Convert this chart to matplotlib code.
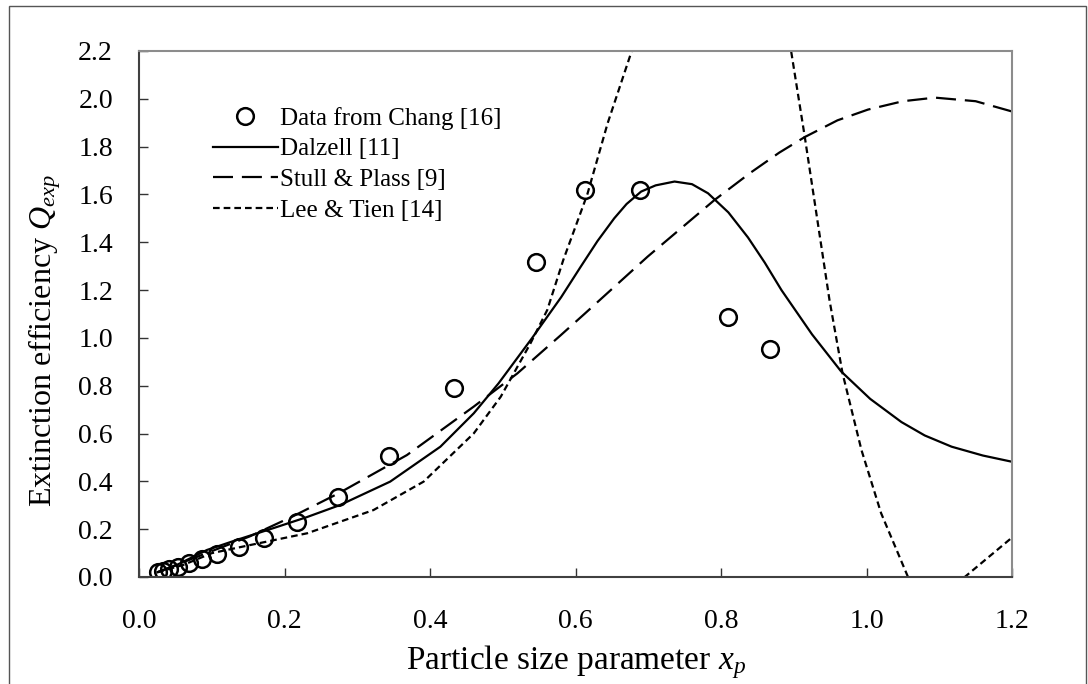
import matplotlib.pyplot as plt
from matplotlib.patches import Rectangle

# Measured extinction efficiency (Chang)
chang_x = [0.026, 0.033, 0.041, 0.053, 0.068, 0.086, 0.107, 0.137, 0.172,
           0.217, 0.273, 0.344, 0.433, 0.546, 0.613, 0.688, 0.809, 0.867]
chang_q = [0.020, 0.025, 0.032, 0.043, 0.057, 0.075, 0.096, 0.127, 0.163,
           0.231, 0.333, 0.508, 0.790, 1.317, 1.619, 1.619, 1.089, 0.954]

# Dalzell model
dalzell_x = [0.025, 0.05, 0.093, 0.137, 0.185, 0.23, 0.276, 0.345, 0.414, 0.46,
             0.494, 0.54, 0.58, 0.607, 0.63, 0.653, 0.67, 0.69, 0.71, 0.736,
             0.76, 0.782, 0.81, 0.837, 0.86, 0.883, 0.925, 0.965, 1.005, 1.048,
             1.08, 1.117, 1.16, 1.2]
dalzell_q = [0.02, 0.048, 0.113, 0.158, 0.205, 0.25, 0.301, 0.399, 0.545, 0.685,
             0.81, 0.999, 1.17, 1.298, 1.405, 1.5, 1.56, 1.612, 1.638, 1.654,
             1.643, 1.605, 1.525, 1.42, 1.315, 1.2, 1.015, 0.86, 0.745, 0.648,
             0.592, 0.545, 0.508, 0.482]

# Stull & Plass model
stull_x = [0.025, 0.08, 0.152, 0.212, 0.274, 0.368, 0.46, 0.52, 0.579, 0.612,
           0.699, 0.791, 0.84, 0.88, 0.915, 0.96, 1.002, 1.05, 1.094, 1.15, 1.2]
stull_q = [0.02, 0.085, 0.17, 0.255, 0.35, 0.51, 0.713, 0.852, 1.01, 1.10,
           1.34, 1.577, 1.69, 1.775, 1.84, 1.91, 1.955, 1.99, 2.005, 1.99, 1.947]

# Lee & Tien model
lee_x = [0.025, 0.06, 0.1, 0.153, 0.231, 0.322, 0.391, 0.46, 0.497, 0.538, 0.561,
         0.583, 0.616, 0.644, 0.676, 0.70, 0.79, 0.88, 0.896, 0.915, 0.949, 0.967,
         0.993, 1.02, 1.057, 1.075, 1.095, 1.115, 1.135, 1.2]
lee_q = [0.02, 0.05, 0.1, 0.134, 0.183, 0.28, 0.399, 0.601, 0.754, 0.978, 1.117,
         1.326, 1.60, 1.898, 2.19, 2.42, 3.4, 2.51, 2.205, 1.842, 1.159, 0.852,
         0.531, 0.267, 0.0, -0.1, -0.14, -0.1, 0.0, 0.165]

x_ticks = [0.0, 0.2, 0.4, 0.6, 0.8, 1.0, 1.2]
y_ticks = [0.0, 0.2, 0.4, 0.6, 0.8, 1.0, 1.2, 1.4, 1.6, 1.8, 2.0, 2.2]

plt.rcParams['font.family'] = ['Liberation Serif', 'DejaVu Serif']
plt.rcParams['mathtext.fontset'] = 'custom'
plt.rcParams['mathtext.rm'] = 'Liberation Serif'
plt.rcParams['mathtext.it'] = 'Liberation Serif:italic'

fig = plt.figure(figsize=(10.88, 6.84), dpi=100)
ax = fig.add_axes([139.3 / 1088, 1 - 577 / 684, 872.7 / 1088, 526 / 684])

# thin frame around the whole chart
fig.patches.append(Rectangle((9 / 1088, -0.05), 1077 / 1088, 1.05 - 6 / 684,
                             transform=fig.transFigure, fill=False,
                             edgecolor='#555555', linewidth=1.0))

lw = 1.6
ax.plot(chang_x, chang_q, linestyle='none', marker='o', markersize=12,
        markerfacecolor='none', markeredgecolor='black', markeredgewidth=1.8,
        label='Data from Chang [16]')
ax.plot(dalzell_x, dalzell_q, color='black', linewidth=lw, label='Dalzell [11]')
ax.plot(stull_x, stull_q, color='black', linewidth=lw,
        linestyle=(0, (9, 4)), label='Stull & Plass [9]')
ax.plot(lee_x, lee_q, color='black', linewidth=lw,
        linestyle=(0, (3, 1.8)), label='Lee & Tien [14]')

ax.set_xlim(0, 1.2)
ax.set_ylim(0, 2.2)
ax.set_xticks(x_ticks)
ax.set_yticks(y_ticks)
ax.set_xticklabels([f'{v:.1f}' for v in x_ticks])
ax.set_yticklabels([f'{v:.1f}' for v in y_ticks])
ax.tick_params(axis='both', direction='in', length=6.5, width=1.0,
               color='#333333', labelsize=20)
ax.tick_params(axis='x', pad=23)
ax.tick_params(axis='y', pad=19)

for side in ['top', 'right']:
    ax.spines[side].set_color('#8c8c8c')
    ax.spines[side].set_linewidth(1.5)
for side in ['left', 'bottom']:
    ax.spines[side].set_color('#404040')
    ax.spines[side].set_linewidth(1.5)

ax.set_xlabel(r'Particle size parameter $x_p$', fontsize=24)
ax.set_ylabel(r'Extinction efficiency $Q_{exp}$', fontsize=23)
ax.xaxis.set_label_coords(0.5, -0.126)
ax.yaxis.set_label_coords(-0.088, 0.45)

ax.legend(loc='upper left', bbox_to_anchor=(0.084, 0.894), frameon=False,
          fontsize=18, handlelength=2.6, handletextpad=0.1,
          labelspacing=0.33, borderpad=0, borderaxespad=0)

fig.savefig('out.png', dpi=100)
